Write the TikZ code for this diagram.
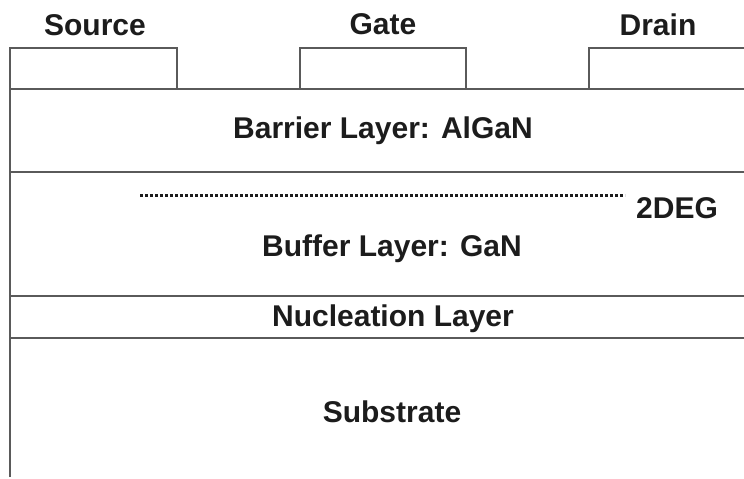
\documentclass[tikz,border=0pt]{standalone}
\usepackage{fontspec}
\setmainfont{Liberation Sans}
\usetikzlibrary{positioning}
\definecolor{LayerLine}{HTML}{5A5A5A}
\definecolor{LabelInk}{HTML}{1C1C1C}

\begin{document}
\begin{tikzpicture}[x=1pt,y=-1pt,
    every node/.style={font=\fontsize{30}{36}\selectfont\bfseries,text=LabelInk,inner sep=0pt},
    edge/.style={draw=LayerLine,line width=2.4pt},
    gas/.style={draw=LabelInk,line width=3pt,dash pattern=on 3pt off 2pt}
  ]
    \useasboundingbox (0,0) rectangle (744,479);
    % contacts
    \draw[edge] (10,477) -- (10,48) -- (177,48) -- (177,89);
    \draw[edge] (300,89) -- (300,48) -- (466,48) -- (466,89);
    \draw[edge] (589,89) -- (589,48) -- (744,48);
    % layer boundaries
    \foreach \y in {89,172,296,338}
      \draw[edge] (10,\y) -- (744,\y);
    \node (source) at (95,25) {Source};
    \node (gate) at (383,24) {Gate};
    \node (drain) at (658,25) {Drain};
    \node (barrier) at (383,131) {Barrier Layer: AlGaN};
    \node (buffer) at (392,249) {Buffer Layer: GaN};
    \node (nucleation) at (393,319) {Nucleation Layer};
    \node (substrate) at (392,412) {Substrate};
    % 2DEG channel
    \coordinate (ch-a) at (140,195);
    \coordinate (ch-b) at (625,195);
    \draw[gas] (ch-a) -- (ch-b);
    \node[anchor=west] (deg) at (636,208) {2DEG};
  \end{tikzpicture}
\end{document}
